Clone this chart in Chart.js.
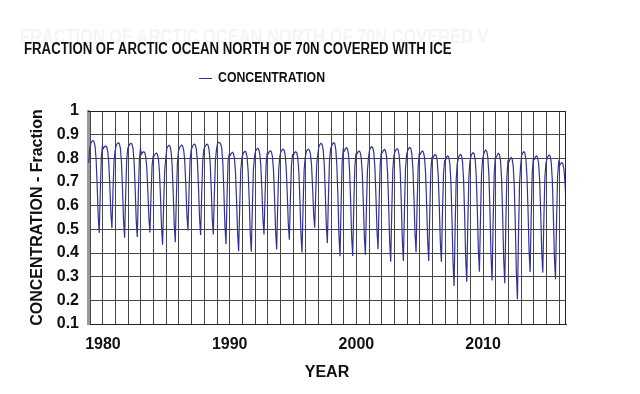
<!DOCTYPE html>
<html>
<head>
<meta charset="utf-8">
<title>Arctic ice fraction</title>
<script src="https://cdn.jsdelivr.net/npm/chart.js@4/dist/chart.umd.min.js"></script>
<style>
  html, body { margin: 0; padding: 0; background: #fff; }
  #iceChart { display: block; }
</style>
</head>
<body>
<canvas id="iceChart" width="640" height="394"></canvas>
<script>
'use strict';

// monthly series starts in November 1978
var firstYear = 1978;
var firstMonth = 11;

// fraction of ocean north of 70N covered with ice, one row per year (Jan..Dec)
var concentration = [
    0.780, 0.840,                                                                       // 1978 (Nov-Dec)
    0.863, 0.871, 0.875, 0.871, 0.852, 0.797, 0.688, 0.555, 0.485, 0.661, 0.805, 0.852, // 1979
    0.842, 0.849, 0.852, 0.849, 0.831, 0.783, 0.685, 0.567, 0.505, 0.661, 0.790, 0.831, // 1980
    0.854, 0.862, 0.866, 0.862, 0.842, 0.786, 0.674, 0.537, 0.465, 0.645, 0.794, 0.842, // 1981
    0.852, 0.860, 0.864, 0.860, 0.840, 0.785, 0.674, 0.539, 0.468, 0.646, 0.793, 0.840, // 1982
    0.818, 0.825, 0.828, 0.825, 0.808, 0.760, 0.664, 0.548, 0.487, 0.640, 0.767, 0.808, // 1983
    0.810, 0.818, 0.822, 0.818, 0.799, 0.745, 0.636, 0.505, 0.435, 0.609, 0.752, 0.799, // 1984
    0.843, 0.851, 0.855, 0.851, 0.830, 0.773, 0.659, 0.520, 0.446, 0.630, 0.781, 0.830, // 1985
    0.845, 0.852, 0.856, 0.852, 0.834, 0.784, 0.683, 0.560, 0.495, 0.657, 0.791, 0.834, // 1986
    0.848, 0.856, 0.860, 0.856, 0.837, 0.783, 0.676, 0.545, 0.476, 0.649, 0.791, 0.837, // 1987
    0.849, 0.856, 0.860, 0.856, 0.837, 0.784, 0.677, 0.547, 0.478, 0.650, 0.791, 0.837, // 1988
    0.862, 0.868, 0.866, 0.860, 0.842, 0.782, 0.661, 0.515, 0.437, 0.631, 0.790, 0.815, // 1989
    0.812, 0.821, 0.825, 0.821, 0.800, 0.742, 0.625, 0.483, 0.408, 0.596, 0.750, 0.800, // 1990
    0.817, 0.826, 0.830, 0.826, 0.805, 0.745, 0.626, 0.482, 0.405, 0.596, 0.754, 0.805, // 1991
    0.831, 0.838, 0.842, 0.838, 0.820, 0.769, 0.667, 0.544, 0.478, 0.642, 0.776, 0.820, // 1992
    0.819, 0.828, 0.832, 0.828, 0.807, 0.749, 0.632, 0.490, 0.415, 0.603, 0.757, 0.807, // 1993
    0.828, 0.835, 0.839, 0.835, 0.816, 0.762, 0.655, 0.525, 0.456, 0.628, 0.770, 0.816, // 1994
    0.815, 0.824, 0.828, 0.824, 0.802, 0.743, 0.624, 0.479, 0.402, 0.594, 0.751, 0.802, // 1995
    0.828, 0.835, 0.838, 0.835, 0.818, 0.772, 0.679, 0.567, 0.507, 0.656, 0.778, 0.818, // 1996
    0.850, 0.859, 0.863, 0.859, 0.838, 0.779, 0.661, 0.518, 0.442, 0.631, 0.787, 0.838, // 1997
    0.852, 0.861, 0.866, 0.861, 0.837, 0.770, 0.636, 0.472, 0.386, 0.602, 0.780, 0.837, // 1998
    0.831, 0.840, 0.845, 0.840, 0.818, 0.753, 0.625, 0.469, 0.387, 0.593, 0.763, 0.818, // 1999
    0.818, 0.827, 0.831, 0.827, 0.805, 0.743, 0.621, 0.472, 0.393, 0.590, 0.752, 0.805, // 2000
    0.836, 0.845, 0.849, 0.845, 0.823, 0.762, 0.641, 0.494, 0.416, 0.611, 0.771, 0.823, // 2001
    0.824, 0.833, 0.838, 0.833, 0.810, 0.743, 0.610, 0.449, 0.363, 0.577, 0.753, 0.810, // 2002
    0.827, 0.836, 0.841, 0.836, 0.813, 0.746, 0.613, 0.452, 0.366, 0.580, 0.756, 0.813, // 2003
    0.833, 0.842, 0.846, 0.842, 0.819, 0.757, 0.633, 0.483, 0.403, 0.602, 0.766, 0.819, // 2004
    0.817, 0.826, 0.831, 0.826, 0.803, 0.738, 0.608, 0.450, 0.366, 0.575, 0.747, 0.803, // 2005
    0.803, 0.812, 0.817, 0.812, 0.790, 0.726, 0.599, 0.445, 0.363, 0.567, 0.735, 0.790, // 2006
    0.794, 0.805, 0.810, 0.805, 0.777, 0.700, 0.546, 0.360, 0.261, 0.508, 0.711, 0.777, // 2007
    0.801, 0.812, 0.817, 0.812, 0.785, 0.709, 0.559, 0.376, 0.279, 0.521, 0.720, 0.785, // 2008
    0.809, 0.819, 0.824, 0.819, 0.794, 0.723, 0.583, 0.412, 0.321, 0.547, 0.733, 0.794, // 2009
    0.818, 0.829, 0.835, 0.829, 0.802, 0.725, 0.571, 0.383, 0.284, 0.532, 0.736, 0.802, // 2010
    0.805, 0.816, 0.821, 0.816, 0.788, 0.711, 0.557, 0.371, 0.272, 0.519, 0.722, 0.788, // 2011
    0.785, 0.797, 0.803, 0.797, 0.767, 0.683, 0.516, 0.313, 0.205, 0.474, 0.695, 0.767, // 2012
    0.813, 0.823, 0.828, 0.823, 0.798, 0.726, 0.584, 0.411, 0.320, 0.549, 0.737, 0.798, // 2013
    0.795, 0.805, 0.810, 0.805, 0.780, 0.711, 0.573, 0.406, 0.317, 0.539, 0.721, 0.780, // 2014
    0.798, 0.809, 0.814, 0.809, 0.783, 0.709, 0.562, 0.384, 0.289, 0.525, 0.720, 0.783, // 2015
    0.770, 0.778, 0.782, 0.778, 0.755, 0.700, 0.610                                     // 2016 (Jan-Jul)
];

// axis ticks
var yearLabels = [1980, 1990, 2000, 2010];
var yTicks = [0.1, 0.2, 0.3, 0.4, 0.5, 0.6, 0.7, 0.8, 0.9, 1];

var seriesName = 'CONCENTRATION';
var chartTitle = 'FRACTION OF ARCTIC OCEAN NORTH OF 70N COVERED WITH ICE';
var ghostTitle = 'FRACTION OF ARCTIC OCEAN NORTH OF 70N COVERED V';

var lineColor = '#323296';
var gridColor = '#474747';

// each month sits in the middle of its slot on the decimal year axis
var points = concentration.map(function (v, i) {
    var m = firstMonth - 1 + i;
    return { x: firstYear + (m + 0.5) / 12, y: v };
});

// narrow bold text (the original title uses a condensed face)
function narrowText(ctx, text, x, y, size, color, squeeze) {
    ctx.save();
    ctx.font = 'bold ' + size + 'px "Liberation Sans", Arial, sans-serif';
    ctx.fillStyle = color;
    ctx.textAlign = 'left';
    ctx.textBaseline = 'middle';
    ctx.translate(x, y);
    ctx.scale(squeeze, 1);
    ctx.fillText(text, 0, 0);
    ctx.restore();
}

var pagePlugin = {
    id: 'pageDecor',
    beforeDraw: function (chart) {
        var ctx = chart.ctx;
        ctx.save();
        ctx.fillStyle = '#ffffff';
        ctx.fillRect(0, 0, chart.width, chart.height);
        ctx.restore();
        // very faint ghost of the title left in the source image
        narrowText(ctx, ghostTitle, 20, 37, 20, '#f5f5f5', 0.82);
    },
    afterDraw: function (chart) {
        var ctx = chart.ctx;
        var area = chart.chartArea;
        narrowText(ctx, chartTitle, 24, 50, 16, '#111111', 0.825);

        // legend entry
        ctx.save();
        ctx.strokeStyle = lineColor;
        ctx.lineWidth = 1;
        ctx.beginPath();
        ctx.moveTo(199, 78.5);
        ctx.lineTo(212, 78.5);
        ctx.stroke();
        ctx.restore();
        narrowText(ctx, seriesName, 218, 78, 15, '#111111', 0.82);

        // frame round the plot
        ctx.save();
        ctx.strokeStyle = '#222222';
        ctx.lineWidth = 1;
        ctx.beginPath();
        ctx.moveTo(area.left, area.top + 0.5);
        ctx.lineTo(area.right - 0.5, area.top + 0.5);
        ctx.lineTo(area.right - 0.5, area.bottom);
        ctx.stroke();
        ctx.restore();
    }
};

var ctx = document.getElementById('iceChart');
var iceChart = new Chart(ctx, {
    type: 'line',
    data: {
        datasets: [{
            label: seriesName,
            data: points,
            borderColor: lineColor,
            borderWidth: 1.2,
            pointRadius: 0,
            tension: 0,
            fill: false
        }]
    },
    options: {
        responsive: false,
        animation: false,
        layout: {
            padding: { top: 111, right: 74, bottom: 0, left: 0 }
        },
        plugins: {
            legend: { display: false },
            title: { display: false },
            tooltip: { enabled: false }
        },
        scales: {
            x: {
                type: 'linear',
                min: 1978.82,
                max: 2016.54,
                afterBuildTicks: function (scale) {
                    var t = [];
                    for (var yr = 1979; yr <= 2016; yr++) {
                        t.push({ value: yr });
                    }
                    scale.ticks = t;
                },
                afterFit: function (scale) {
                    scale.height = 70;
                },
                ticks: {
                    autoSkip: false,
                    maxRotation: 0,
                    padding: 11,
                    color: '#111111',
                    font: { family: '"Liberation Sans", Arial, sans-serif', size: 16, weight: 'bold' },
                    callback: function (value) {
                        return yearLabels.indexOf(value) >= 0 ? String(value) : '';
                    }
                },
                grid: {
                    color: gridColor,
                    lineWidth: 1,
                    drawTicks: false
                },
                border: { color: '#222222', width: 1 },
                title: {
                    display: true,
                    text: 'YEAR',
                    color: '#111111',
                    font: { family: '"Liberation Sans", Arial, sans-serif', size: 16, weight: 'bold' },
                    padding: { top: 0, bottom: 12 }
                }
            },
            y: {
                min: 0.1,
                max: 1,
                afterBuildTicks: function (scale) {
                    scale.ticks = yTicks.map(function (v) { return { value: v }; });
                },
                afterFit: function (scale) {
                    scale.width = 88;
                },
                ticks: {
                    padding: 9,
                    color: '#111111',
                    font: { family: '"Liberation Sans", Arial, sans-serif', size: 16, weight: 'bold' },
                    callback: function (value) {
                        return String(Number(value.toFixed(1)));
                    }
                },
                grid: {
                    color: gridColor,
                    lineWidth: 1,
                    drawTicks: false
                },
                border: { color: '#9a9a9a', width: 3 },
                title: {
                    display: true,
                    text: 'CONCENTRATION - Fraction',
                    color: '#111111',
                    font: { family: '"Liberation Sans", Arial, sans-serif', size: 16, weight: 'bold' },
                    padding: { top: 28, bottom: 0 }
                }
            }
        }
    },
    plugins: [pagePlugin]
});
</script>
</body>
</html>
